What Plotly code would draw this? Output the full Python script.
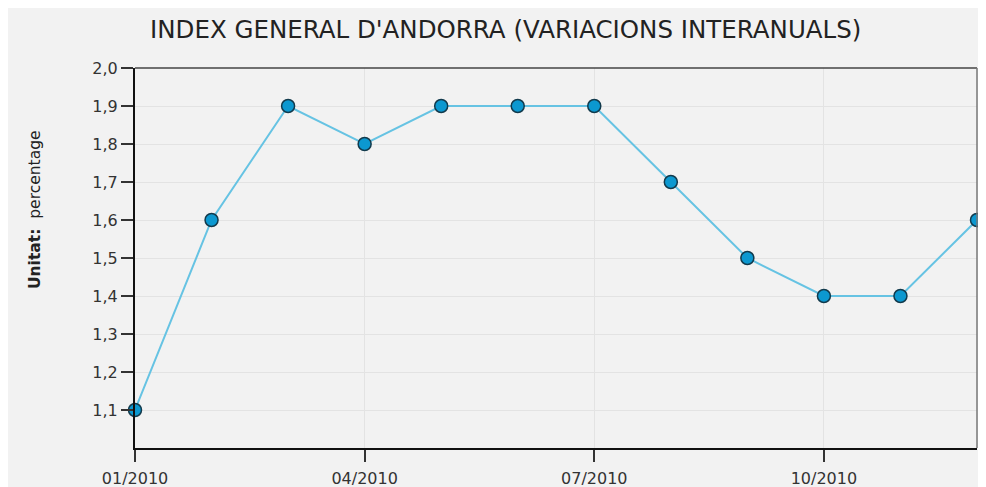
import plotly.graph_objects as go

months = ["01/2010", "02/2010", "03/2010", "04/2010", "05/2010", "06/2010",
          "07/2010", "08/2010", "09/2010", "10/2010", "11/2010", "12/2010"]
values = [1.1, 1.6, 1.9, 1.8, 1.9, 1.9, 1.9, 1.7, 1.5, 1.4, 1.4, 1.6]
tick_months = ["01/2010", "04/2010", "07/2010", "10/2010"]
y_ticks = [1.1, 1.2, 1.3, 1.4, 1.5, 1.6, 1.7, 1.8, 1.9, 2.0]

idx = list(range(len(months)))
tickvals = [months.index(m) for m in tick_months]

# page body has an 8px margin; target positions are in viewport pixels
OFF = 8
VW, VH = 986, 487
W, H = VW - OFF, VH - OFF
PL, PR, PT, PB = 135, 977, 68, 448   # plot area in viewport px
L, R, T, B = PL - OFF, VW - PR, PT - OFF, VH - PB
pw, ph = PR - PL, PB - PT

def px_x(p):
    return (p - PL) / pw

def px_y(p):
    return (PB - p) / ph

fig = go.Figure()
fig.add_trace(go.Scatter(
    x=idx, y=values, mode="lines+markers",
    line=dict(color="#66c3e3", width=2),
    marker=dict(size=13, color="#0c98d0", line=dict(color="#123a4c", width=1.5)),
    cliponaxis=False, hoverinfo="skip",
))

fig.update_layout(
    width=W, height=H,
    margin=dict(l=L, r=R, t=T, b=B, autoexpand=False),
    paper_bgcolor="#f2f2f2",
    plot_bgcolor="#f2f2f2",
    separators=",.",
    showlegend=False,
    font=dict(family="DejaVu Sans, Verdana, sans-serif", color="#333333"),
    xaxis=dict(
        range=[0, 11], tickvals=tickvals, ticktext=tick_months,
        showgrid=True, gridcolor="#e3e3e3", gridwidth=1,
        showline=True, linecolor="#111111", linewidth=2,
        ticks="outside", ticklen=12, tickwidth=2, tickcolor="#333333",
        ticklabelstandoff=3,
        tickfont=dict(size=16, color="#333333"), zeroline=False,
    ),
    yaxis=dict(
        range=[1.0, 2.0], tickvals=y_ticks, tickformat=".1f",
        showgrid=True, gridcolor="#e3e3e3", gridwidth=1,
        showline=True, linecolor="#111111", linewidth=2,
        ticks="outside", ticklen=12, tickwidth=2, tickcolor="#333333",
        tickfont=dict(size=16, color="#333333"), zeroline=False,
    ),
    shapes=[
        dict(type="line", xref="paper", yref="paper", x0=0, x1=1, y0=1, y1=1,
             line=dict(color="#444444", width=1.5)),
        dict(type="line", xref="paper", yref="paper", x0=1, x1=1, y0=0, y1=1,
             line=dict(color="#777777", width=1.5)),
    ],
    annotations=[
        dict(text="INDEX GENERAL D'ANDORRA (VARIACIONS INTERANUALS)",
             xref="paper", yref="paper", x=px_x(505), y=px_y(30),
             xanchor="center", yanchor="middle", showarrow=False,
             font=dict(family="DejaVu Sans, sans-serif",
                       size=24.5, color="#222222")),
        dict(text="<b>Unitat:</b>  percentage",
             xref="paper", yref="paper", x=px_x(35), y=px_y(210),
             xanchor="center", yanchor="middle", showarrow=False, textangle=-90,
             font=dict(family="DejaVu Sans, Verdana, sans-serif", size=15.5, color="#222222")),
    ],
)

fig.write_html("out.html")
